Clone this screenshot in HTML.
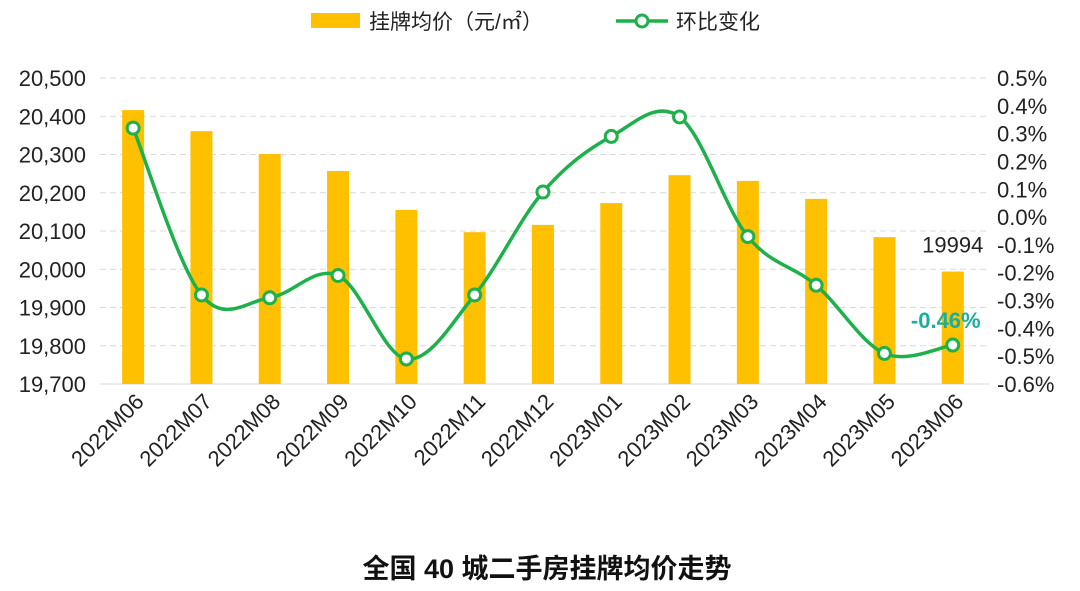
<!DOCTYPE html>
<html><head><meta charset="utf-8">
<style>
html,body{margin:0;padding:0;background:#fff;}
svg{display:block;font-family:"Liberation Sans","Noto Sans CJK SC",sans-serif;}
</style></head>
<body>
<svg id="chart" width="1080" height="591" viewBox="0 0 1080 591">
  <g id="grid"></g><g id="bars"></g><g id="line"></g><g id="axes"></g>
  <g>
    <rect x="311" y="13" width="49" height="15" fill="#FFC000"/>
    <text x="369" y="29" font-size="21" fill="#222">挂牌均价（元/㎡）</text>
    <line x1="616" y1="21" x2="668" y2="21" stroke="#1DB04B" stroke-width="3.5"/>
    <circle cx="642" cy="21" r="6" fill="#fff" stroke="#1DB04B" stroke-width="3"/>
    <text x="676" y="29" font-size="21" fill="#222">环比变化</text>
  </g>
  <text x="547" y="578" font-size="27" font-weight="bold" text-anchor="middle" fill="#111">全国 40 城二手房挂牌均价走势</text>
</svg>
<script>
const categories=["2022M06","2022M07","2022M08","2022M09","2022M10","2022M11","2022M12","2023M01","2023M02","2023M03","2023M04","2023M05","2023M06"];
const prices=[20416,20361,20301,20257,20155,20097,20116,20173,20246,20231,20184,20084,19994];
const changes=[0.32,-0.28,-0.29,-0.21,-0.51,-0.28,0.09,0.29,0.36,-0.07,-0.245,-0.49,-0.46];
const leftTicks=[19700,19800,19900,20000,20100,20200,20300,20400,20500];
const rightTicks=[-0.6,-0.5,-0.4,-0.3,-0.2,-0.1,0,0.1,0.2,0.3,0.4,0.5];
const NS="http://www.w3.org/2000/svg";
const plotTop=78,plotBot=384,x0=99,step=68.3;
const yL=v=>plotBot-(v-19700)/800*(plotBot-plotTop);
const yR=v=>plotBot-(v+0.6)/1.1*(plotBot-plotTop);
const xC=i=>x0+step*(i+0.5);
function mk(tag,attrs,parent){const e=document.createElementNS(NS,tag);for(const k in attrs)e.setAttribute(k,attrs[k]);document.getElementById(parent).appendChild(e);return e;}
leftTicks.forEach(v=>{
  const y=yL(v);
  if(v>19700){const g=mk('line',{x1:100,x2:990,y1:y,y2:y,stroke:'#d9d9d9','stroke-dasharray':'6,4','stroke-width':1},'grid');
  
  }
  const t=mk('text',{x:86,y:y+8,'font-size':22,'text-anchor':'end',fill:'#222'},'axes');
  t.textContent=v.toLocaleString('en-US');
  
  
});
const base=mk('line',{x1:100,x2:990,y1:plotBot,y2:plotBot,stroke:'#d9d9d9'},'grid');


rightTicks.forEach(v=>{
  const t=mk('text',{x:997,y:yR(v)+8,'font-size':22,fill:'#222'},'axes');
  t.textContent=v.toFixed(1)+'%';
  
  
});
categories.forEach((c,i)=>{
  const x=xC(i);
  const b=mk('rect',{x:x-11,y:yL(prices[i]),width:22,height:plotBot-yL(prices[i]),fill:'#FFC000'},'bars');
  
  
  const t=mk('text',{x:x+12,y:403,'font-size':22,'text-anchor':'end',fill:'#222',transform:`rotate(-45 ${x+12} 403)`},'axes');
  t.textContent=c;
  
  
});
const pts=changes.map((v,i)=>[xC(i),yR(v)]);
let d=`M${pts[0][0]},${pts[0][1]}`;
for(let i=0;i<pts.length-1;i++){
  const p0=pts[Math.max(0,i-1)],p1=pts[i],p2=pts[i+1],p3=pts[Math.min(pts.length-1,i+2)];
  const t=0.17;
  d+=` C${p1[0]+(p2[0]-p0[0])*t},${p1[1]+(p2[1]-p0[1])*t} ${p2[0]-(p3[0]-p1[0])*t},${p2[1]-(p3[1]-p1[1])*t} ${p2[0]},${p2[1]}`;
}
const path=mk('path',{d:d,fill:'none',stroke:'#1DB04B','stroke-width':3.5},'line');


pts.forEach((p,i)=>{
  const c=mk('circle',{cx:p[0],cy:p[1],r:6,fill:'#fff',stroke:'#1DB04B','stroke-width':3},'line');
  
  
});
const n=categories.length-1;
const l1=mk('text',{x:xC(n),y:yL(prices[n])-19,'font-size':22,'text-anchor':'middle',fill:'#222'},'line');
l1.textContent=String(prices[n]);


const l2=mk('text',{x:xC(n)-7,y:yR(changes[n])-17,'font-size':22,'font-weight':'bold','text-anchor':'middle',fill:'#1AAE9F'},'line');
l2.textContent=changes[n].toFixed(2)+'%';


</script>
</body></html>
